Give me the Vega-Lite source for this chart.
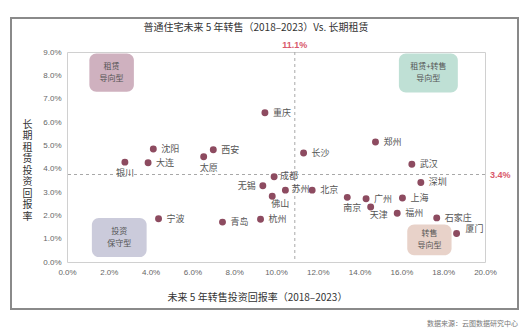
{
  "$schema": "https://vega.github.io/schema/vega-lite/v6.json",
  "width": 418,
  "height": 210,
  "autosize": {"type": "none"},
  "padding": {"left": 67, "top": 52, "right": 41, "bottom": 72},
  "background": "white",
  "config": {
    "view": {"stroke": "#d0d0d0", "strokeWidth": 1},
    "font": "Noto Sans CJK SC",
    "axis": {"labelOverlap": false, "labelFlush": false, "labelBound": false, "domain": false, "ticks": false, "grid": false,
             "labelFontSize": 8, "labelColor": "#666666", "labelPadding": 6, "labelFont": "Liberation Sans"}
  },
  "title": {
    "text": "普通住宅未来 5 年转售（2018–2023）Vs. 长期租赁",
    "anchor": "middle",
    "dx": -20,
    "offset": -16,
    "fontSize": 10,
    "fontWeight": "normal",
    "color": "#333333",
    "font": "Noto Sans CJK SC"
  },
  "resolve": {"axis": {"x": "independent", "y": "independent"}},
  "datasets": {
    "cities": [
      {"city": "重庆", "sale": 9.47, "rent": 6.40},
      {"city": "沈阳", "sale": 4.13, "rent": 4.84},
      {"city": "西安", "sale": 7.00, "rent": 4.81},
      {"city": "太原", "sale": 6.54, "rent": 4.51},
      {"city": "大连", "sale": 3.88, "rent": 4.25},
      {"city": "银川", "sale": 2.77, "rent": 4.28},
      {"city": "成都", "sale": 9.91, "rent": 3.65},
      {"city": "长沙", "sale": 11.32, "rent": 4.67},
      {"city": "郑州", "sale": 14.76, "rent": 5.14},
      {"city": "武汉", "sale": 16.50, "rent": 4.19},
      {"city": "无锡", "sale": 9.37, "rent": 3.27},
      {"city": "佛山", "sale": 9.82, "rent": 2.82},
      {"city": "苏州", "sale": 10.45, "rent": 3.08},
      {"city": "宁波", "sale": 4.38, "rent": 1.85},
      {"city": "青岛", "sale": 7.44, "rent": 1.71},
      {"city": "杭州", "sale": 9.26, "rent": 1.83},
      {"city": "北京", "sale": 11.73, "rent": 3.08},
      {"city": "南京", "sale": 13.41, "rent": 2.77},
      {"city": "广州", "sale": 14.31, "rent": 2.71},
      {"city": "天津", "sale": 14.53, "rent": 2.36},
      {"city": "上海", "sale": 16.05, "rent": 2.74},
      {"city": "福州", "sale": 15.80, "rent": 2.09},
      {"city": "深圳", "sale": 16.93, "rent": 3.41},
      {"city": "石家庄", "sale": 17.69, "rent": 1.89},
      {"city": "厦门", "sale": 18.64, "rent": 1.22}
    ],
    "boxes": [
      {"type": "租赁\n导向型", "x1": 1.07, "x2": 3.2, "y1": 8.94, "y2": 7.3},
      {"type": "租赁+转售\n导向型", "x1": 15.88, "x2": 18.7, "y1": 8.94, "y2": 7.26},
      {"type": "投资\n保守型", "x1": 1.19, "x2": 3.81, "y1": 1.89, "y2": 0.21},
      {"type": "转售\n导向型", "x1": 16.28, "x2": 18.4, "y1": 1.61, "y2": 0.29}
    ]
  },
  "data": {"name": "cities"},
  "layer": [
    {
      "mark": {"type": "rect", "fill": null, "stroke": "#8a8a8a", "strokeWidth": 1, "clip": false},
      "encoding": {
        "x": {"datum": -2.68, "type": "quantitative", "axis": null},
        "x2": {"datum": 21.58},
        "y": {"datum": 10.47, "type": "quantitative", "axis": null},
        "y2": {"datum": -2.03}
      }
    },
    {
      "data": {"name": "boxes"},
      "mark": {"type": "rect", "cornerRadius": 7},
      "encoding": {
        "x": {"field": "x1", "type": "quantitative", "axis": null},
        "x2": {"field": "x2"},
        "y": {"field": "y1", "type": "quantitative", "axis": null},
        "y2": {"field": "y2"},
        "color": {
          "field": "type", "type": "nominal", "legend": null,
          "scale": {
            "domain": ["租赁\n导向型", "租赁+转售\n导向型", "投资\n保守型", "转售\n导向型"],
            "range": ["#cfb1bf", "#bfe0d5", "#cbcbdb", "#e8d2c9"]
          }
        }
      }
    },
    {
      "data": {"name": "boxes"},
      "transform": [
        {"calculate": "(datum.x1 + datum.x2) / 2", "as": "xm"},
        {"calculate": "(datum.y1 + datum.y2) / 2", "as": "ym"}
      ],
      "mark": {"type": "text", "lineBreak": "\n", "fontSize": 8, "color": "#555555", "lineHeight": 12, "dy": -6, "baseline": "middle"},
      "encoding": {
        "x": {"field": "xm", "type": "quantitative", "axis": null},
        "y": {"field": "ym", "type": "quantitative", "axis": null},
        "text": {"field": "type"}
      }
    },
    {
      "data": {"values": [{"v": 10.9, "label": "11.1%"}]},
      "mark": {"type": "rule", "stroke": "#a8a8a8", "strokeDash": [3, 3], "strokeWidth": 1},
      "encoding": {"x": {"field": "v", "type": "quantitative", "axis": null}}
    },
    {
      "data": {"values": [{"v": 10.9, "label": "11.1%"}]},
      "mark": {"type": "text", "color": "#d9596b", "fontSize": 9, "fontWeight": "bold", "dy": -7, "font": "Liberation Sans"},
      "encoding": {
        "x": {"field": "v", "type": "quantitative", "axis": null},
        "y": {"datum": 9, "type": "quantitative", "axis": null},
        "text": {"field": "label"}
      }
    },
    {
      "data": {"values": [{"v": 3.75, "label": "3.4%"}]},
      "mark": {"type": "rule", "stroke": "#a8a8a8", "strokeDash": [3, 3], "strokeWidth": 1},
      "encoding": {"y": {"field": "v", "type": "quantitative", "axis": null}}
    },
    {
      "data": {"values": [{"v": 3.75, "label": "3.4%"}]},
      "mark": {"type": "text", "color": "#d9596b", "fontSize": 9, "fontWeight": "bold", "align": "left", "dx": 5, "font": "Liberation Sans"},
      "encoding": {
        "x": {"datum": 20, "type": "quantitative", "axis": null},
        "y": {"field": "v", "type": "quantitative", "axis": null},
        "text": {"field": "label"}
      }
    },
    {
      "mark": {"type": "circle", "size": 48, "opacity": 1, "color": "#8d4b60"},
      "encoding": {
        "x": {
          "field": "sale", "type": "quantitative",
          "scale": {"domain": [0, 20], "nice": false, "zero": true},
          "axis": {
            "values": [0, 2, 4, 6, 8, 10, 12, 14, 16, 18, 20],
            "labelExpr": "format(datum.value, '.1f') + '%'",
            "labelOverlap": false, "labelFlush": false,
            "title": "未来 5 年转售投资回报率（2018–2023）",
            "titleFontSize": 10, "titleFontWeight": "normal", "titleColor": "#333333",
            "titleX": 190, "titleY": 35, "titleBaseline": "middle", "titleAlign": "center"
          }
        },
        "y": {
          "field": "rent", "type": "quantitative",
          "scale": {"domain": [0, 9], "nice": false, "zero": true},
          "axis": {
            "values": [0, 1, 2, 3, 4, 5, 6, 7, 8, 9],
            "labelExpr": "format(datum.value, '.1f') + '%'",
            "labelOverlap": false, "labelFlush": false,
            "title": ["长", "期", "租", "赁", "投", "资", "回", "报", "率"],
            "titleFontSize": 10, "titleFontWeight": "normal", "titleColor": "#333333",
            "titleAngle": 0, "titleX": -40, "titleY": 67, "titleBaseline": "top",
            "titleAlign": "center", "titleLineHeight": 11.5
          }
        }
      }
    },
    {
      "transform": [{"filter": {"not": {"field": "city", "oneOf": ["银川", "太原", "无锡", "佛山", "南京", "天津", "厦门", "苏州", "成都"]}}}],
      "mark": {"type": "text", "align": "left", "dx": 8, "fontSize": 9, "color": "#555555", "baseline": "middle"},
      "encoding": {
        "x": {"field": "sale", "type": "quantitative", "axis": null},
        "y": {"field": "rent", "type": "quantitative", "axis": null},
        "text": {"field": "city"}
      }
    },
    {
      "transform": [{"filter": {"field": "city", "oneOf": ["苏州", "成都"]}}],
      "mark": {"type": "text", "align": "left", "dx": 6, "dy": -1, "fontSize": 9, "color": "#555555", "baseline": "middle"},
      "encoding": {
        "x": {"field": "sale", "type": "quantitative", "axis": null},
        "y": {"field": "rent", "type": "quantitative", "axis": null},
        "text": {"field": "city"}
      }
    },
    {
      "transform": [{"filter": {"field": "city", "oneOf": ["银川"]}}],
      "mark": {"type": "text", "align": "center", "dy": 11, "fontSize": 9, "color": "#555555", "baseline": "middle"},
      "encoding": {
        "x": {"field": "sale", "type": "quantitative", "axis": null},
        "y": {"field": "rent", "type": "quantitative", "axis": null},
        "text": {"field": "city"}
      }
    },
    {
      "transform": [{"filter": {"field": "city", "oneOf": ["太原", "南京"]}}],
      "mark": {"type": "text", "align": "center", "dx": 5, "dy": 11, "fontSize": 9, "color": "#555555", "baseline": "middle"},
      "encoding": {
        "x": {"field": "sale", "type": "quantitative", "axis": null},
        "y": {"field": "rent", "type": "quantitative", "axis": null},
        "text": {"field": "city"}
      }
    },
    {
      "transform": [{"filter": {"field": "city", "oneOf": ["佛山", "天津"]}}],
      "mark": {"type": "text", "align": "center", "dx": 8, "dy": 8, "fontSize": 9, "color": "#555555", "baseline": "middle"},
      "encoding": {
        "x": {"field": "sale", "type": "quantitative", "axis": null},
        "y": {"field": "rent", "type": "quantitative", "axis": null},
        "text": {"field": "city"}
      }
    },
    {
      "transform": [{"filter": {"field": "city", "oneOf": ["无锡"]}}],
      "mark": {"type": "text", "align": "right", "dx": -7, "fontSize": 9, "color": "#555555", "baseline": "middle"},
      "encoding": {
        "x": {"field": "sale", "type": "quantitative", "axis": null},
        "y": {"field": "rent", "type": "quantitative", "axis": null},
        "text": {"field": "city"}
      }
    },
    {
      "transform": [{"filter": {"field": "city", "oneOf": ["厦门"]}}],
      "mark": {"type": "text", "align": "left", "dx": 9, "dy": -5, "fontSize": 9, "color": "#555555", "baseline": "middle"},
      "encoding": {
        "x": {"field": "sale", "type": "quantitative", "axis": null},
        "y": {"field": "rent", "type": "quantitative", "axis": null},
        "text": {"field": "city"}
      }
    },
    {
      "data": {"values": [{"source": "数据来源：云图数据研究中心"}]},
      "mark": {"type": "text", "align": "right", "baseline": "middle", "fontSize": 7, "color": "#777777", "clip": false},
      "encoding": {
        "x": {"datum": 21.58, "type": "quantitative", "axis": null},
        "y": {"datum": -2.65, "type": "quantitative", "axis": null},
        "text": {"field": "source"}
      }
    }
  ]
}
